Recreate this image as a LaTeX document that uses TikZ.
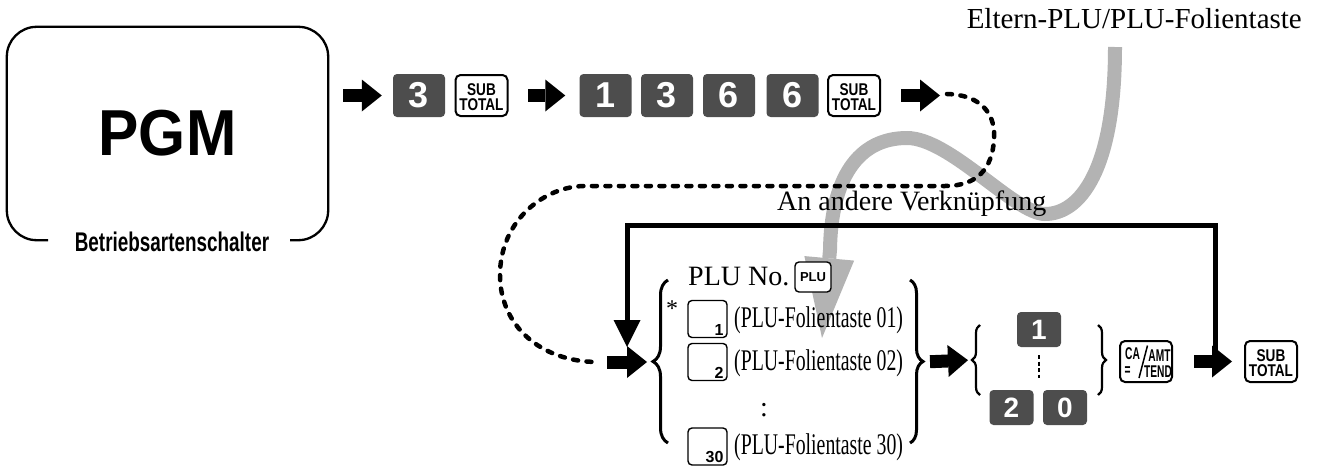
\documentclass[tikz,border=0pt]{standalone}
\usepackage{fontspec}
\usepackage{graphicx}
\setmainfont{Liberation Serif}
\newfontfamily\sansfam{Liberation Sans}
\usetikzlibrary{arrows.meta,decorations.pathreplacing,calc}
\definecolor{keygray}{HTML}{4D4D4D}
\definecolor{bandgray}{HTML}{B3B3B3}
\newcommand\fsz[1]{\fontsize{#1}{#1}\selectfont}
\newcommand\rowtext[1]{\scalebox{0.66}[1]{#1}}
\newcommand\cnd[1]{\scalebox{0.6}[1]{#1}}
\tikzset{
  dkey/.style={rectangle, rounded corners=4pt, fill=keygray, minimum width=52pt, minimum height=43pt, inner sep=0pt, text=white, font=\sansfam\bfseries\fsz{36}},
  skey/.style={dkey, minimum width=44pt, minimum height=35pt, font=\sansfam\bfseries\fsz{28}},
  wkey/.style={rectangle, rounded corners=5pt, draw=black, line width=2pt, fill=white, minimum width=52pt, minimum height=41pt, inner sep=0pt},
  ktxt/.style={inner sep=0pt, font=\sansfam\bfseries\fsz{17}},
  nkey/.style={rectangle, rounded corners=4pt, draw=black, line width=1.4pt, fill=white, minimum width=39pt, minimum height=37pt, inner sep=0pt},
  nlbl/.style={inner sep=0pt, anchor=south east, font=\sansfam\bfseries\fsz{16}},
  blk/.style={line width=13pt, -{Triangle[length=20pt,width=32pt,line width=0pt]}},
  dotline/.style={line width=4.5pt, line cap=round, dash pattern=on 5pt off 8.5pt},
  brc/.style={decorate, decoration={brace, amplitude=#1}, line width=3pt},
  brc/.default=15pt,
  txt/.style={inner sep=0pt, font=\fsz{28}},
  rowtxt/.style={inner sep=0pt, anchor=base west, font=\fsz{30}},
}
\newcommand\subtotalkey[3]{%
  \node[wkey] (#1) at (#2,#3) {};
  \node[ktxt] at ($(#1)+(0,-5.5)$) {\scalebox{0.8}[1]{SUB}};
  \node[ktxt] at ($(#1)+(0,9.5)$) {\scalebox{0.8}[1]{TOTAL}};
}
\begin{document}
\begin{tikzpicture}[x=1pt,y=-1pt]
\useasboundingbox (0,0) rectangle (1317,466);

% ---- gray band (Eltern-PLU / PLU-Folientaste) ----
\node[txt, font=\fsz{29}, anchor=base east] (lbl) at (1302,28) {Eltern-PLU/PLU-Folientaste};
\coordinate (gS) at (1115,47);
\coordinate (gE) at (822,338);
\draw[bandgray, line width=14pt, -{Triangle[length=80pt,width=50pt,line width=0pt]}]
  (gS) .. controls (1115,170) and (1080,214) .. (1045,214)
  .. controls (1015,214) and (950,138) .. (907,138)
  .. controls (857,138) and (831,180) .. (830,250) -- (gE);

% ---- PGM mode switch ----
\node[minimum width=321pt, minimum height=213pt, inner sep=0pt,
      font=\sansfam\bfseries\fsz{65}] (pgm) at (167.5,133.5) {\scalebox{0.93}[1]{PGM}};
\draw[line width=2.3pt, rounded corners=30pt]
  ($(pgm.south)+(-119.5,0)$) -| (pgm.north west) -| (pgm.south east) -- ($(pgm.south)+(122.5,0)$);
\node[inner sep=0pt, font=\sansfam\bfseries\fsz{27}] (mode) at (172,242) {\scalebox{0.7}[1]{Betriebsartenschalter}};

% ---- top key row ----
\node[dkey] (k3) at (419,95.5) {3};
\subtotalkey{st1}{481.5}{95.5}
\node[dkey] (k1) at (605.5,95.5) {1};
\node[dkey] (k3b) at (667,95.5) {3};
\node[dkey] (k6) at (729,95.5) {6};
\node[dkey] (k6b) at (792.5,95.5) {6};
\subtotalkey{st2}{854}{95.5}

\draw[blk, shorten <=15pt, shorten >=11pt] (pgm.east |- k3.west) -- (k3.west);
\draw[blk, shorten <=19.5pt, shorten >=14pt] (st1.east) -- (k1.west);
\coordinate (dA) at (947,94);
\draw[blk, shorten <=20pt, shorten >=7pt] (st2.east) -- (dA |- st2.east);

% ---- dotted connector ----
\coordinate (dB) at (598,362);
\draw[dotline] (dA) .. controls (985,95) and (996,118) .. (994,140)
  .. controls (992,168) and (978,186) .. (945,186) -- (585,186)
  .. controls (545,186) and (500,220) .. (500,275)
  .. controls (500,325) and (540,362) .. (dB);

% ---- loop "An andere Verknüpfung" ----
\node[txt, anchor=base west] (andere) at (777,210) {An andere Verknüpfung};
\coordinate (lpA) at (1215,362);
\coordinate (lpB) at (1215,225);
\coordinate (lpC) at (627,225);
\coordinate (lpD) at (627,347);
\draw[line width=5pt, line join=miter, -{Triangle[length=27pt,width=27pt,line width=0pt]}]
  (lpA) -- (lpB) -- (lpC) -- (lpD);

% ---- PLU selection block ----
\draw[brc=15pt] (668,443) -- (668,280);
\coordinate (lbt) at (653,362);
\draw[blk, shorten <=9pt, shorten >=6pt] (dB) -- (lbt);

\node[txt, anchor=base west] (pluno) at (688,285) {PLU No.};
\node[wkey, minimum width=36pt, minimum height=30pt, line width=1.4pt, rounded corners=4pt] (plukey) at (813,277) {};
\node[ktxt, font=\sansfam\bfseries\fsz{13}] at (plukey) {PLU};

\node[inner sep=0pt, anchor=north, font=\fsz{24}] (ast) at (672,301) {*};

\node[nkey] (r1) at (707.5,319) {};
\node[nlbl] at ($(r1.south east)+(-4,-3)$) {1};
\node[rowtxt] (t1) at (734,327) {\rowtext{(PLU-Folientaste 01)}};
\node[nkey] (r2) at (707.5,362) {};
\node[nlbl] at ($(r2.south east)+(-4,-3)$) {2};
\node[rowtxt] (t2) at (734,370) {\rowtext{(PLU-Folientaste 02)}};
\node[txt] (vd) at (764,410) {:};
\node[nkey] (r30) at (707.5,446.5) {};
\node[nlbl] at ($(r30.south east)+(-4,-3)$) {30};
\node[rowtxt] (t30) at (734,454.5) {\rowtext{(PLU-Folientaste 30)}};

\draw[brc=13pt] (910,280) -- (910,443);
\coordinate (rbt) at (923,362);

% ---- quantity block ----
\draw[brc=8pt, line width=2.2pt] (980,395) -- (980,325);
\coordinate (slb) at (972,360);
\draw[blk, shorten <=7pt, shorten >=4pt] (rbt) -- (slb);
\node[skey] (s1) at (1039,329.5) {1};
\node[skey] (s2) at (1011.5,407.5) {2};
\node[skey] (s0) at (1065,407.5) {0};
\draw[line width=2pt, dash pattern=on 4pt off 2.5pt] ($(s1.south)+(0,8)$) -- ($(s1.south)+(0,31)$);
\draw[brc=8pt, line width=2.2pt] (1098,325) -- (1098,395);

% ---- CA/AMT key ----
\node[wkey] (ca) at (1146,361.5) {};
\node[ktxt] at ($(ca)+(-13.5,-8)$) {\cnd{CA}};
\node[ktxt] at ($(ca)+(13.5,-5.5)$) {\cnd{AMT}};
\node[ktxt] at ($(ca)+(-18.5,10)$) {\cnd{=}};
\node[ktxt] at ($(ca)+(12,10)$) {\cnd{TEND}};
\draw[line width=1.5pt] ($(ca)+(-7,16.5)$) -- ($(ca)+(1.5,-16)$);

\subtotalkey{st3}{1271}{361.5}
\draw[blk, shorten <=21pt, shorten >=12pt] (ca.east) -- (st3.west);
\end{tikzpicture}
\end{document}
